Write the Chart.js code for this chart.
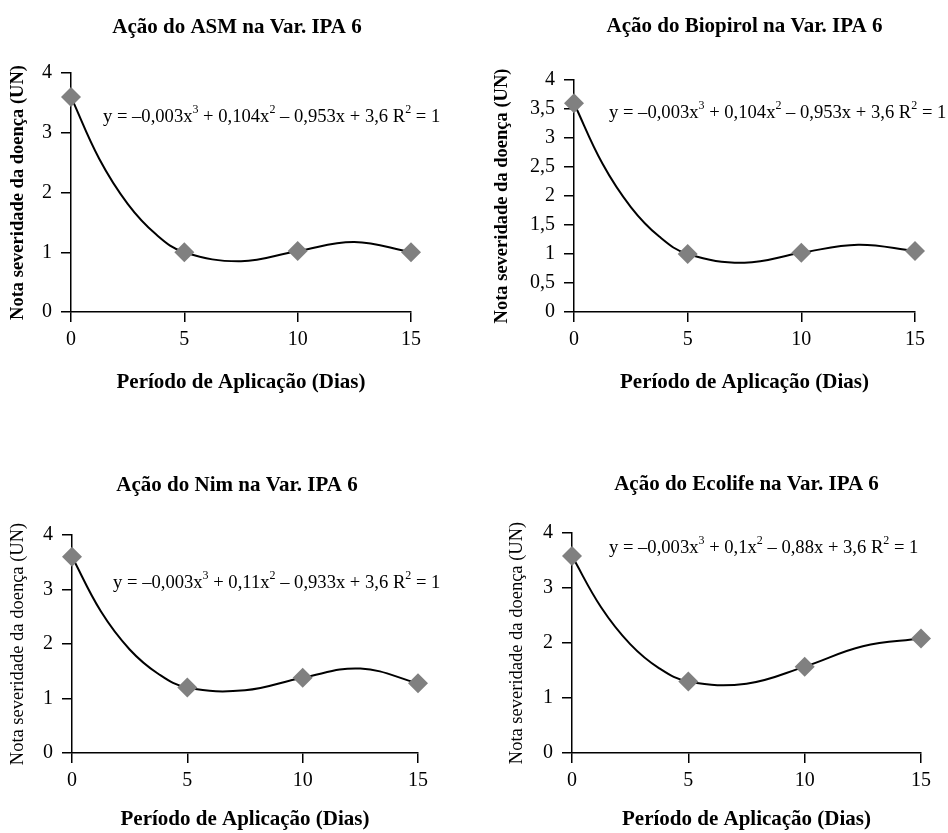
<!DOCTYPE html>
<html>
<head>
<meta charset="utf-8">
<script src="https://cdn.jsdelivr.net/npm/chart.js@4.4.1/dist/chart.umd.min.js"></script>
<style>
body { margin: 0; background: #fff; width: 948px; height: 833px; overflow: hidden; position: relative; }
canvas { position: absolute; }
</style>
</head>
<body>
<canvas id="asm" width="474" height="416" style="left:0;top:0"></canvas>
<canvas id="biopirol" width="474" height="416" style="left:474px;top:0"></canvas>
<canvas id="nim" width="474" height="417" style="left:0;top:416px"></canvas>
<canvas id="ecolife" width="474" height="417" style="left:474px;top:416px"></canvas>
<script>
// observed disease scores at each application day
var days = [0, 5, 10, 15];
var asmValues = [3.6, 1.0, 1.02, 1.0];
var biopirolValues = [3.6, 1.0, 1.02, 1.05];
var nimValues = [3.6, 1.2, 1.38, 1.28];
var ecolifeValues = [3.58, 1.3, 1.57, 2.08];

// trend line heights
var trendDays = [0, 1.25, 2.5, 3.75, 5, 7.5, 10, 12.5, 15];
var asmTrend = [3.6, 2.56, 1.81, 1.3, 1.0, 0.85, 1.02, 1.17, 1.0];
var biopirolTrend = [3.6, 2.56, 1.81, 1.3, 1.0, 0.85, 1.02, 1.16, 1.05];
var nimTrend = [3.6, 2.6, 1.9, 1.45, 1.2, 1.15, 1.38, 1.55, 1.28];
var ecolifeTrend = [3.58, 2.65, 1.98, 1.54, 1.3, 1.26, 1.57, 1.94, 2.08];

var titles = ['Ação do ASM na Var. IPA 6', 'Ação do Biopirol na Var. IPA 6',
              'Ação do Nim na Var. IPA 6', 'Ação do Ecolife na Var. IPA 6'];
// ^ marks the next character as a superscript
var equations = ['y = –0,003x^3 + 0,104x^2 – 0,953x + 3,6 R^2 = 1',
                 'y = –0,003x^3 + 0,104x^2 – 0,953x + 3,6 R^2 = 1',
                 'y = –0,003x^3 + 0,11x^2 – 0,933x + 3,6 R^2 = 1',
                 'y = –0,003x^3 + 0,1x^2 – 0,88x + 3,6 R^2 = 1'];
var xTitle = 'Período de Aplicação (Dias)';
var yTitle = 'Nota severidade da doença (UN)';

var FONT = "'Liberation Serif', 'DejaVu Serif', serif";

function toPoints(xs, ys) {
    var out = [];
    for (var i = 0; i < xs.length; i++) {
        out.push({x: xs[i], y: ys[i]});
    }
    return out;
}

// draws the regression equation inside the plot, with real superscripts
var equationLabel = {
    id: 'equationLabel',
    afterDatasetsDraw: function (chart, args, opts) {
        var ctx = chart.ctx;
        var x = chart.scales.x.getPixelForValue(opts.x);
        var y = chart.scales.y.getPixelForValue(opts.y);
        var normal = opts.size + 'px ' + FONT;
        var sup = Math.round(opts.size * 0.66) + 'px ' + FONT;
        var parts = opts.text.split('^');
        ctx.save();
        ctx.fillStyle = '#000';
        ctx.textAlign = 'left';
        ctx.textBaseline = 'middle';
        for (var i = 0; i < parts.length; i++) {
            var s = parts[i];
            if (i > 0) {
                ctx.font = sup;
                ctx.fillText(s.charAt(0), x, y - opts.size * 0.38);
                x += ctx.measureText(s.charAt(0)).width;
                s = s.substring(1);
            }
            ctx.font = normal;
            ctx.fillText(s, x, y);
            x += ctx.measureText(s).width;
        }
        ctx.restore();
    }
};

function newPanel(id, p) {
    var titleSize = 21, xTitleSize = 21, yTitleSize = 18.5, tickSize = 20;
    var tLh = titleSize * 1.2;
    var titleTop = p.titleY - tLh / 2;

    return new Chart(document.getElementById(id).getContext('2d'), {
        data: {
            datasets: [{
                type: 'scatter',
                data: toPoints(days, p.values),
                pointStyle: 'rectRot',
                pointRadius: 10,
                backgroundColor: '#808080',
                borderColor: '#808080',
                borderWidth: 0,
                clip: false
            }, {
                type: 'line',
                data: toPoints(trendDays, p.trend),
                borderColor: '#000',
                borderWidth: 2,
                pointRadius: 0,
                tension: 0.4,
                fill: false,
                clip: false
            }]
        },
        options: {
            responsive: false,
            animation: false,
            layout: {padding: 0},
            plugins: {
                legend: {display: false},
                tooltip: {enabled: false},
                title: {
                    display: true,
                    text: p.title,
                    fullSize: p.fullTitle,
                    color: '#000',
                    font: {family: FONT, size: titleSize, weight: 'bold'},
                    padding: {top: titleTop, bottom: p.chartTop - titleTop - tLh}
                },
                equationLabel: {text: p.equation, x: p.eqX, y: p.eqY, size: 18.6}
            },
            scales: {
                x: {
                    type: 'linear',
                    min: 0, max: 15,
                    afterFit: function (scale) {
                        scale.height = p.h - p.chartBottom;
                        scale.paddingRight = p.w - p.chartRight;
                    },
                    ticks: {stepSize: 5, color: '#000', padding: 6, font: {family: FONT, size: tickSize}},
                    grid: {drawOnChartArea: false, drawTicks: true, tickLength: 10, color: '#000', lineWidth: 1.5},
                    border: {display: true, color: '#000', width: 1.5},
                    title: {
                        display: true,
                        text: xTitle,
                        color: '#000',
                        font: {family: FONT, size: xTitleSize, weight: 'bold'},
                        padding: {top: 0, bottom: p.h - p.xTitleY - xTitleSize * 0.6}
                    }
                },
                y: {
                    min: 0, max: 4,
                    afterFit: function (scale) {
                        scale.width = p.chartLeft;
                    },
                    ticks: {
                        stepSize: p.yStep, color: '#000', padding: 9, font: {family: FONT, size: tickSize},
                        callback: function (v) { return String(v).replace('.', ','); }
                    },
                    grid: {drawOnChartArea: false, drawTicks: true, tickLength: 10, color: '#000', lineWidth: 1.5},
                    border: {display: true, color: '#000', width: 1.5},
                    title: {
                        display: true,
                        text: yTitle,
                        color: '#000',
                        font: {family: FONT, size: yTitleSize, weight: p.yBold ? 'bold' : 'normal'},
                        padding: {top: p.yTitleX - yTitleSize * 0.6, bottom: 0}
                    }
                }
            }
        },
        plugins: [equationLabel]
    });
}

newPanel('asm', {
    title: titles[0], equation: equations[0], values: asmValues, trend: asmTrend,
    w: 474, h: 416, chartLeft: 71, chartRight: 411, chartTop: 73, chartBottom: 312,
    titleY: 28, fullTitle: true, yTitleX: 18, xTitleY: 383, yStep: 1, yBold: true,
    eqX: 1.41, eqY: 3.26
});
newPanel('biopirol', {
    title: titles[1], equation: equations[1], values: biopirolValues, trend: biopirolTrend,
    w: 474, h: 416, chartLeft: 100, chartRight: 441, chartTop: 80, chartBottom: 312,
    titleY: 27, fullTitle: false, yTitleX: 28, xTitleY: 383, yStep: 0.5, yBold: true,
    eqX: 1.54, eqY: 3.43
});
newPanel('nim', {
    title: titles[2], equation: equations[2], values: nimValues, trend: nimTrend,
    w: 474, h: 417, chartLeft: 72, chartRight: 418, chartTop: 119, chartBottom: 337,
    titleY: 70, fullTitle: true, yTitleX: 18, xTitleY: 404, yStep: 1, yBold: false,
    eqX: 1.78, eqY: 3.12
});
newPanel('ecolife', {
    title: titles[3], equation: equations[3], values: ecolifeValues, trend: ecolifeTrend,
    w: 474, h: 417, chartLeft: 98, chartRight: 447, chartTop: 117, chartBottom: 337,
    titleY: 69, fullTitle: false, yTitleX: 43, xTitleY: 404, yStep: 1, yBold: false,
    eqX: 1.59, eqY: 3.73
});
</script>
</body>
</html>
